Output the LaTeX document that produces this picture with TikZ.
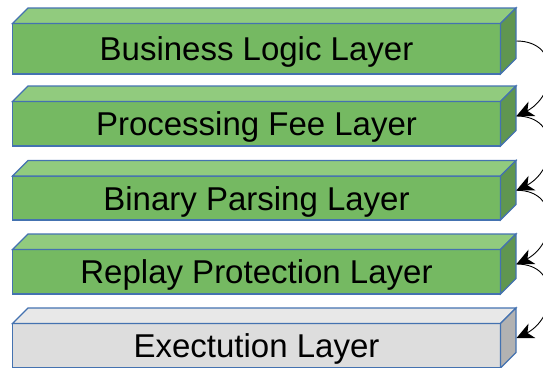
\documentclass[tikz,border=0pt]{standalone}
\usepackage{fontspec}
\setmainfont{Liberation Sans}
\usetikzlibrary{arrows.meta}
\definecolor{gfront}{RGB}{117,185,98}
\definecolor{gtop}{RGB}{145,203,126}
\definecolor{gside}{RGB}{96,150,80}
\definecolor{wfront}{RGB}{221,221,221}
\definecolor{wtop}{RGB}{232,232,232}
\definecolor{wside}{RGB}{178,178,178}
\definecolor{edgeblue}{RGB}{68,114,176}
\tikzset{
  facebox/.style={draw=edgeblue, line width=1.2pt, line join=miter},
  layertext/.style={anchor=base, inner sep=0pt, font=\fontsize{33}{36}\selectfont, text=black},
  flow/.style={draw=black, line width=0.9pt, shorten >=9pt},
  flowhead/.style={fill=black, draw=none}
}
\begin{document}
\begin{tikzpicture}[x=1pt,y=1pt]
\useasboundingbox (0,0) rectangle (543,-367);
\clip (0,0) rectangle (543,-367);
\def\L{12.5}\def\R{500.5}\def\D{15.5}
\foreach \T/\B/\fc/\tc/\sc/\n/\txt in {
  8/74/gfront/gtop/gside/1/Business Logic Layer,
  86/146/gfront/gtop/gside/2/Processing Fee Layer,
  160.5/220/gfront/gtop/gside/3/Binary Parsing Layer,
  234/294/gfront/gtop/gside/4/Replay Protection Layer,
  308/368/wfront/wtop/wside/5/Exectution Layer}{
  \pgfmathsetmacro{\Tn}{-\T}
  \pgfmathsetmacro{\Bn}{-\B}
  \pgfmathsetmacro{\F}{-\T-\D}
  \pgfmathsetmacro{\S}{-\B+\D}
  \pgfmathsetmacro{\M}{-(\T+\D+\B)/2-12}
  \pgfmathsetmacro{\C}{-(\T+\B)/2}
  \path[facebox, fill=\fc] (\L,\F) rectangle (\R,\Bn);
  \path[facebox, fill=\tc] (\L,\F) -- (\L+\D,\Tn) -- (\R+\D,\Tn) -- (\R,\F) -- cycle;
  \path[facebox, fill=\sc] (\R,\F) -- (\R+\D,\Tn) -- (\R+\D,\S) -- (\R,\Bn) -- cycle;
  \node[layertext] (t\n) at ({(\L+\R)/2},\M) {\txt};
  \coordinate (c\n) at (\R+\D+0.5,\C);
}
\foreach \a/\b in {1/2,2/3,3/4,4/5}{
  \draw[flow] (c\a) to[out=0, in=25, looseness=1.55] (c\b);
  \fill[flowhead, shift={(c\b)}] (0,0) -- (18.8,0) -- (10.9,5.1) -- (12.0,14.4) -- cycle;
}
\end{tikzpicture}
\end{document}
